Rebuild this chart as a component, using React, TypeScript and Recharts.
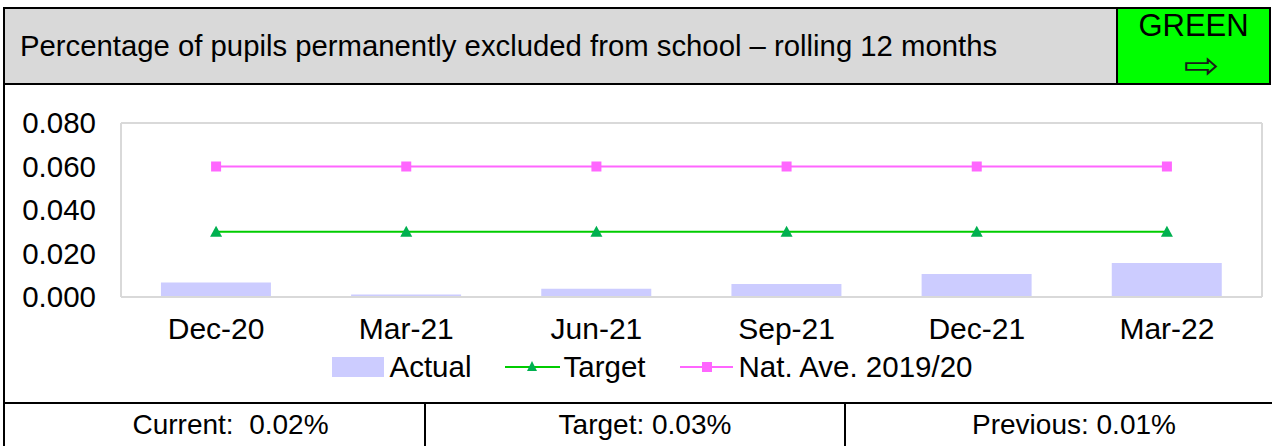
import React from "react";
import {
  ComposedChart,
  Bar,
  Line,
  XAxis,
  YAxis,
  CartesianGrid,
  Legend,
} from "recharts";

const categories = ["Dec-20", "Mar-21", "Jun-21", "Sep-21", "Dec-21", "Mar-22"];
const actual = [0.0067, 0.0012, 0.0038, 0.006, 0.0106, 0.0156];
const target = [0.03, 0.03, 0.03, 0.03, 0.03, 0.03];
const natAve = [0.06, 0.06, 0.06, 0.06, 0.06, 0.06];
const yTicks = [0, 0.02, 0.04, 0.06, 0.08];
const seriesNames = ["Actual", "Target", "Nat. Ave. 2019/20"];
const titleText = "Percentage of pupils permanently excluded from school \u2013 rolling 12 months";
const statusText = "GREEN";
const footer = ["Current:  0.02%", "Target: 0.03%", "Previous: 0.01%"];

const data = categories.map((c, i) => ({
  cat: c,
  actual: actual[i],
  target: target[i],
  natAve: natAve[i],
}));

const FONT = '"Liberation Sans", Arial, sans-serif';
const BAR = "#ccccff";
const GREEN_LINE = "#00cc00";
const GREEN_MARK = "#00b050";
const PINK = "#ff66ff";

const Tri = (props: any) => {
  const { cx, cy } = props;
  if (cx == null || cy == null) return null;
  return (
    <path
      d={`M${cx},${cy - 6} L${cx + 6},${cy + 5} L${cx - 6},${cy + 5} Z`}
      fill={GREEN_MARK}
    />
  );
};

const Sq = (props: any) => {
  const { cx, cy } = props;
  if (cx == null || cy == null) return null;
  return <rect x={cx - 5} y={cy - 5} width={10} height={10} fill={PINK} />;
};

const LegendContent = () => {
  const txt: React.CSSProperties = { fontSize: 29.5, color: "#000", fontFamily: FONT };
  return (
    <div
      style={{
        display: "flex",
        justifyContent: "center",
        alignItems: "center",
        height: 40,
        width: "100%",
        paddingLeft: 32,
        boxSizing: "border-box",
      }}
    >
      <svg width={52} height={20} style={{ marginRight: 6 }}>
        <rect x={0} y={0} width={52} height={20} fill={BAR} />
      </svg>
      <span style={txt}>{seriesNames[0]}</span>
      <svg width={55} height={20} style={{ marginLeft: 33, marginRight: 4 }}>
        <line x1={0} y1={10} x2={55} y2={10} stroke={GREEN_LINE} strokeWidth={2} />
        <path d="M27,4 L32,14 L22,14 Z" fill={GREEN_MARK} />
      </svg>
      <span style={txt}>{seriesNames[1]}</span>
      <svg width={53} height={20} style={{ marginLeft: 34, marginRight: 6 }}>
        <line x1={0} y1={10} x2={53} y2={10} stroke={PINK} strokeWidth={2} />
        <rect x={22} y={5} width={10} height={10} fill={PINK} />
      </svg>
      <span style={txt}>{seriesNames[2]}</span>
    </div>
  );
};

export default function App() {
  const cellStyle: React.CSSProperties = {
    position: "absolute",
    top: 404,
    height: 42,
    display: "flex",
    alignItems: "center",
    justifyContent: "center",
    fontSize: 28,
    fontFamily: FONT,
    whiteSpace: "pre",
    color: "#000",
    boxSizing: "border-box",
  };
  return (
    <div
      style={{
        position: "absolute",
        left: 0,
        top: 0,
        width: 1272,
        height: 446,
        overflow: "hidden",
        background: "#fff",
        fontFamily: FONT,
      }}
    >
      {/* header */}
      <div
        style={{
          position: "absolute",
          left: 5,
          top: 9,
          width: 1111,
          height: 74,
          background: "#d9d9d9",
          display: "flex",
          alignItems: "center",
          paddingLeft: 15,
          boxSizing: "border-box",
          fontSize: 29.3,
          color: "#000",
          whiteSpace: "nowrap",
        }}
      >
        {titleText}
      </div>
      <div
        style={{
          position: "absolute",
          left: 1118,
          top: 9,
          width: 151,
          height: 74,
          background: "#00ff00",
          color: "#000",
        }}
      >
        <div
          style={{
            position: "absolute",
            top: -1,
            left: 0,
            width: "100%",
            textAlign: "center",
            fontSize: 31,
            lineHeight: "35px",
          }}
        >
          {statusText}
        </div>
        <div
          style={{
            position: "absolute",
            top: 35,
            left: 0,
            width: 151,
            textAlign: "center",
            lineHeight: "normal",
          }}
        >
          <span
            style={{
              display: "inline-block",
              fontSize: 37,
              lineHeight: "normal",
              fontFamily: '"DejaVu Sans", sans-serif',
              color: "#1a1a1a",
              transform: "translateX(8px) scaleX(1.15)",
            }}
          >
            {"\u21E8"}
          </span>
        </div>
      </div>

      {/* borders */}
      <div style={{ position: "absolute", left: 3, top: 7, width: 1268, height: 2, background: "#000" }} />
      <div style={{ position: "absolute", left: 3, top: 7, width: 2, height: 439, background: "#000" }} />
      <div style={{ position: "absolute", left: 3, top: 83, width: 1268, height: 2, background: "#000" }} />
      <div style={{ position: "absolute", left: 1116, top: 7, width: 2, height: 78, background: "#000" }} />
      <div style={{ position: "absolute", left: 1269, top: 7, width: 2, height: 78, background: "#000" }} />
      <div style={{ position: "absolute", left: 3, top: 402, width: 1269, height: 2, background: "#000" }} />
      <div style={{ position: "absolute", left: 424, top: 402, width: 2, height: 44, background: "#000" }} />
      <div style={{ position: "absolute", left: 844, top: 402, width: 2, height: 44, background: "#000" }} />

      {/* chart */}
      <div style={{ position: "absolute", left: 0, top: 85, width: 1272, height: 317 }}>
        <ComposedChart
          width={1272}
          height={317}
          data={data}
          margin={{ top: 38, right: 0, left: 0, bottom: 15 }}
          barCategoryGap="21%"
        >
          <CartesianGrid vertical={false} stroke="#d9d9d9" strokeWidth={2} />
          <XAxis
            dataKey="cat"
            tickLine={false}
            axisLine={{ stroke: "#d9d9d9", strokeWidth: 2 }}
            tick={{ fill: "#000", fontSize: 30, fontFamily: FONT }}
            tickSize={0}
            tickMargin={21}
            height={50}
            interval={0}
          />
          <YAxis
            yAxisId="l"
            domain={[0, 0.08]}
            ticks={yTicks}
            tickFormatter={(v: number) => v.toFixed(3)}
            tickLine={false}
            axisLine={{ stroke: "#d9d9d9", strokeWidth: 2 }}
            tick={{ fill: "#000", fontSize: 29.5, fontFamily: FONT }}
            tickSize={0}
            tickMargin={25}
            width={121}
          />
          <YAxis
            yAxisId="r"
            orientation="right"
            domain={[0, 0.08]}
            ticks={yTicks}
            tick={false}
            tickLine={false}
            axisLine={{ stroke: "#d9d9d9", strokeWidth: 2 }}
            width={10}
          />
          <Legend verticalAlign="bottom" content={<LegendContent />} />
          <Bar
            yAxisId="l"
            dataKey="actual"
            name={seriesNames[0]}
            fill={BAR}
            isAnimationActive={false}
          />
          <Line
            yAxisId="l"
            dataKey="target"
            name={seriesNames[1]}
            stroke={GREEN_LINE}
            strokeWidth={2}
            dot={<Tri />}
            activeDot={false}
            isAnimationActive={false}
          />
          <Line
            yAxisId="l"
            dataKey="natAve"
            name={seriesNames[2]}
            stroke={PINK}
            strokeWidth={2}
            dot={<Sq />}
            activeDot={false}
            isAnimationActive={false}
          />
        </ComposedChart>
      </div>

      {/* footer */}
      <div style={{ ...cellStyle, left: 5, width: 419, paddingLeft: 32 }}>{footer[0]}</div>
      <div style={{ ...cellStyle, left: 426, width: 418, paddingLeft: 20 }}>{footer[1]}</div>
      <div style={{ ...cellStyle, left: 846, width: 424, paddingLeft: 32 }}>{footer[2]}</div>
    </div>
  );
}
